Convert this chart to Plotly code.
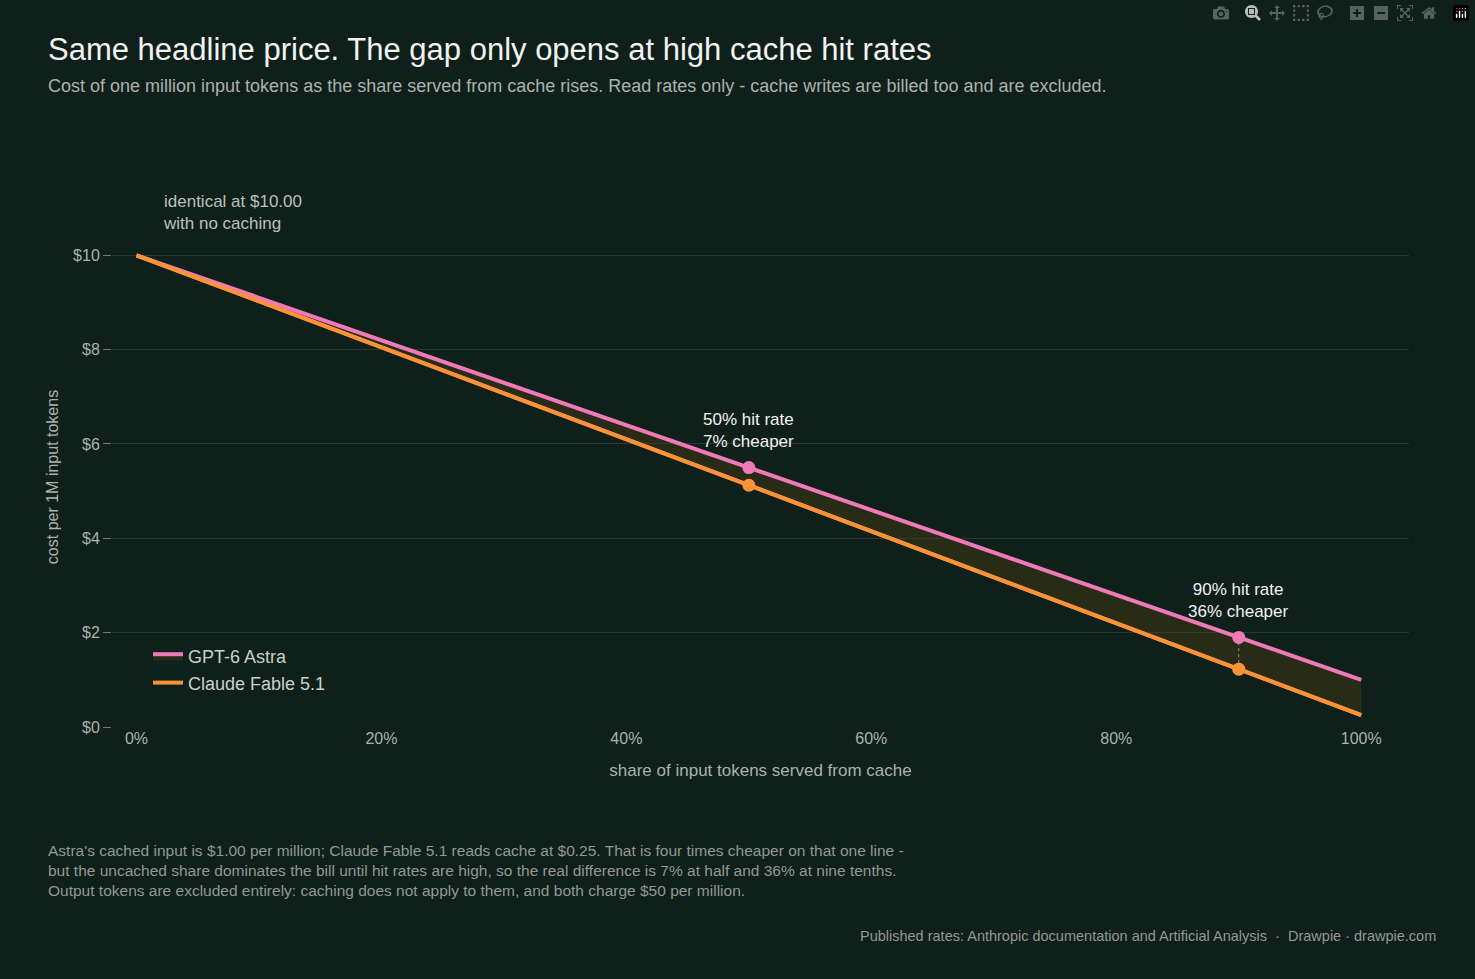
import plotly.graph_objects as go

share = [0, 0.1, 0.2, 0.3, 0.4, 0.5, 0.6, 0.7, 0.8, 0.9, 1.0]
astra = [10, 9.1, 8.2, 7.3, 6.4, 5.5, 4.6, 3.7, 2.8, 1.9, 1.0]
claude = [10, 9.025, 8.05, 7.075, 6.1, 5.125, 4.15, 3.175, 2.2, 1.225, 0.25]
mark_share = [0.5, 0.9]
mark_astra = [5.5, 1.9]
mark_claude = [5.125, 1.225]
mark_labels = ["50% hit rate<br>7% cheaper", "90% hit rate<br>36% cheaper"]
yticks = [0, 2, 4, 6, 8, 10]
ytick_labels = ["$0", "$2", "$4", "$6", "$8", "$10"]
xticks = [0, 0.2, 0.4, 0.6, 0.8, 1.0]

PINK = "#f07ab8"
ORANGE = "#fb9238"
BG = "#0f1f1a"
FONT = "Liberation Sans, Arial, sans-serif"

L, R, T, B = 112, 1409, 227, 727
def px(x): return (x - L) / (R - L)
def py(y): return (B - y) / (B - T)

fig = go.Figure()
fig.add_trace(go.Scatter(x=share, y=claude, mode="lines", line=dict(color=ORANGE, width=4),
                         name="Claude Fable 5.1", showlegend=False))
fig.add_trace(go.Scatter(x=share, y=astra, mode="lines", line=dict(color=PINK, width=4),
                         fill="tonexty", fillcolor="rgba(70,60,20,0.45)", name="GPT-6 Astra"))
fig.add_trace(go.Scatter(x=share, y=claude, mode="lines", line=dict(color=ORANGE, width=4),
                         name="Claude Fable 5.1"))
fig.add_trace(go.Scatter(x=[mark_share[1], mark_share[1]], y=[mark_claude[1], mark_astra[1]], mode="lines",
                         line=dict(color="#8a948f", width=1, dash="dot"), showlegend=False))
fig.add_trace(go.Scatter(x=mark_share, y=mark_astra, mode="markers", marker=dict(color=PINK, size=13),
                         showlegend=False))
fig.add_trace(go.Scatter(x=mark_share, y=mark_claude, mode="markers", marker=dict(color=ORANGE, size=13),
                         showlegend=False))

for xs, ya, lab in zip(mark_share, mark_astra, mark_labels):
    fig.add_annotation(x=xs, y=ya, text=lab, showarrow=False, yshift=37, font=dict(color="#f2f2f2", size=17))

fig.add_annotation(x=0.02, y=py(212), xref="x", yref="paper", text="identical at $10.00<br>with no caching",
                   showarrow=False, xanchor="left", yanchor="middle", align="left", font=dict(color="#b8c2bc", size=17))

fig.add_annotation(x=px(46), y=py(50), xref="paper", yref="paper", xanchor="left", yanchor="middle",
                   text="Same headline price. The gap only opens at high cache hit rates", showarrow=False,
                   font=dict(color="#f2f2f2", size=31))
fig.add_annotation(x=px(46), y=py(86), xref="paper", yref="paper", xanchor="left", yanchor="middle",
                   text="Cost of one million input tokens as the share served from cache rises. Read rates only - cache writes are billed too and are excluded.",
                   showarrow=False, font=dict(color="#a8b3ad", size=18))
fig.add_annotation(x=px(46), y=py(870), xref="paper", yref="paper", xanchor="left", yanchor="middle", align="left",
                   text="Astra's cached input is $1.00 per million; Claude Fable 5.1 reads cache at $0.25. That is four times cheaper on that one line -<br>but the uncached share dominates the bill until hit rates are high, so the real difference is 7% at half and 36% at nine tenths.<br>Output tokens are excluded entirely: caching does not apply to them, and both charge $50 per million.",
                   showarrow=False, font=dict(color="#8f9a94", size=15.5))
fig.add_annotation(x=px(1438), y=py(936), xref="paper", yref="paper", xanchor="right", yanchor="middle",
                   text="Published rates: Anthropic documentation and Artificial Analysis  ·  Drawpie · drawpie.com",
                   showarrow=False, font=dict(color="#8f9a94", size=14.5))

fig.update_layout(
    width=1475, height=979, paper_bgcolor=BG, plot_bgcolor=BG,
    font=dict(family=FONT, color="#a8b3ad", size=16),
    margin=dict(l=L, r=1475 - R, t=T, b=979 - B),
    legend=dict(x=px(148), y=py(638), xanchor="left", yanchor="top", bgcolor="rgba(0,0,0,0)",
                traceorder="normal", font=dict(color="#c8d0cb", size=18)),
    xaxis=dict(range=[-0.02, 1.039], tickvals=xticks, tickformat=".0%", showgrid=False, zeroline=False,
               title=dict(text="share of input tokens served from cache", font=dict(size=17), standoff=18),
               tickfont=dict(size=16)),
    yaxis=dict(range=[0, 10.6], tickvals=yticks, ticktext=ytick_labels, gridcolor="#2a3832", zeroline=False,
               ticks="outside", ticklen=8, tickcolor="#6f7a74",
               title=dict(text="cost per 1M input tokens", font=dict(size=16), standoff=10),
               tickfont=dict(size=16)),
)
for tr in fig.data:
    tr.cliponaxis = False
fig.write_html("out.html")
with open("out.html", encoding="utf-8") as f:
    html = f.read()
html = html.replace("<body>", '<body style="margin:0;background:#0f1f1a">', 1)
with open("out.html", "w", encoding="utf-8") as f:
    f.write(html)
